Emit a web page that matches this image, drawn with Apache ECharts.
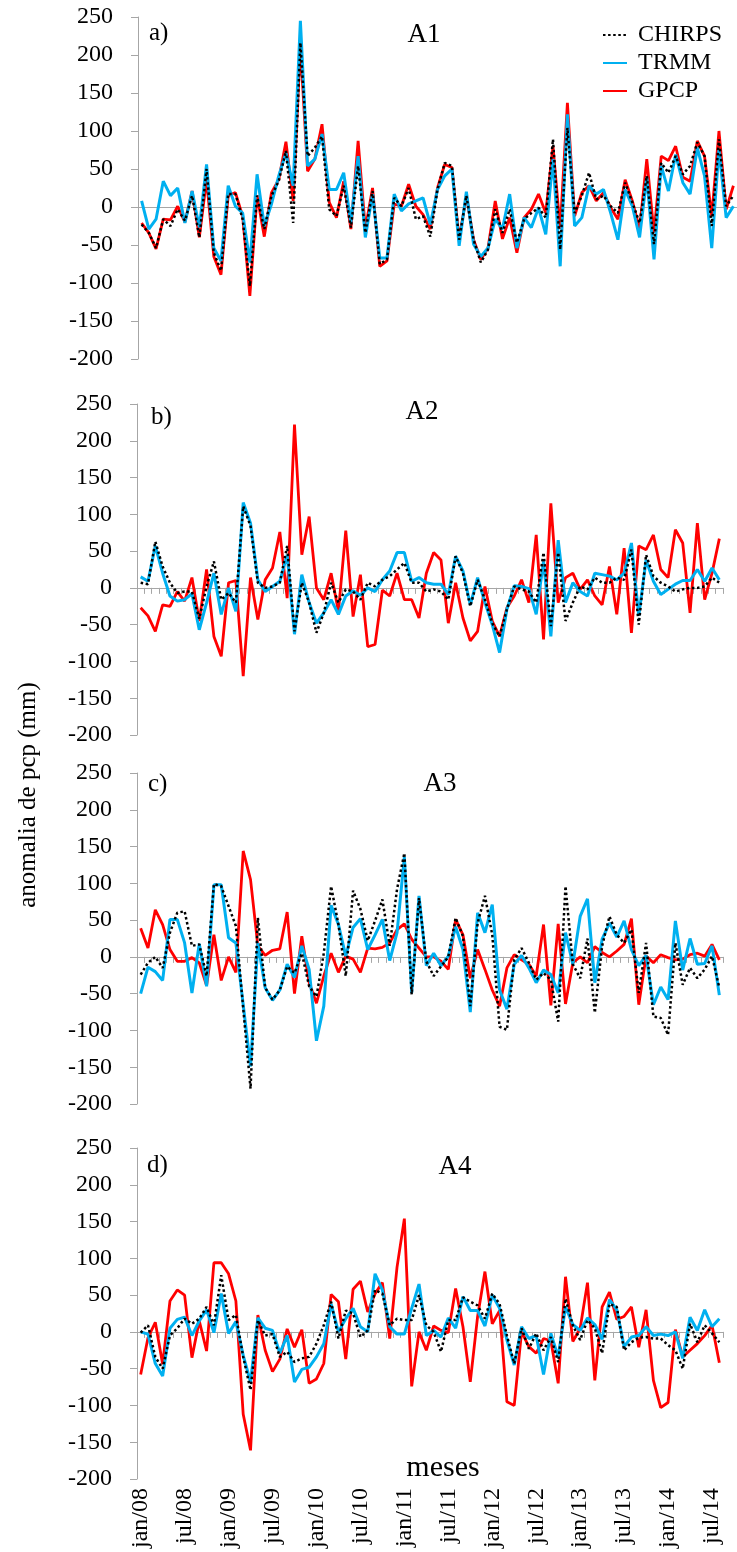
<!DOCTYPE html>
<html>
<head>
<meta charset="utf-8">
<title>anomalia de pcp</title>
<script src="https://cdn.jsdelivr.net/npm/echarts@6/dist/echarts.min.js"></script>
<style>
  html, body { margin: 0; padding: 0; background: #fff; }
  #chart { width: 737px; height: 1552px; }
</style>
</head>
<body>
<div id="chart"></div>
<script>
// month categories, jan/08 onwards
const monthNames = ['jan', 'fev', 'mar', 'abr', 'mai', 'jun', 'jul', 'ago', 'set', 'out', 'nov', 'dez'];
const years = ['08', '09', '10', '11', '12', '13', '14'];
const months = [];
years.forEach(y => monthNames.forEach(m => months.push(m + '/' + y)));

const panelNames = ['A1', 'A2', 'A3', 'A4'];
const panelTags = ['a)', 'b)', 'c)', 'd)'];
const yTicks = [-200, -150, -100, -50, 0, 50, 100, 150, 200, 250];

// A1 - panel runs past the right edge of the picture
const a1Chirps = [-23, -34, -54, -16, -25, -3, -18, 15, -40, 50, -60, -84, 17, 17, -16, -104, 15, -29, 15, 34, 74, -21, 216, 67, 78, 93, -3, -12, 28, -27, 54, -34, 21, -75, -69, 12, 1, 25, -16, -12, -39, 23, 58, 54, -43, 15, -43, -73, -56, -3, -34, -3, -47, -16, -8, -1, -14, 89, -56, 104, -8, 15, 45, 10, 15, 1, -8, 32, 6, -21, 41, -49, 58, 45, 67, 43, 54, 85, 67, -25, 89, 1, 15];
const a1Trmm = [8, -29, -16, 34, 15, 25, -21, 21, -27, 56, -54, -71, 28, 1, -8, -73, 43, -25, 4, 41, 71, 28, 245, 54, 63, 96, 23, 23, 45, -21, 67, -40, 17, -67, -67, 17, -5, 4, 8, 12, -23, 23, 41, 50, -51, 20, -49, -65, -54, -16, -29, 17, -54, -14, -27, -1, -36, 63, -78, 122, -25, -14, 28, 17, 23, -8, -43, 23, 1, -40, 39, -69, 54, 21, 69, 32, 17, 78, 41, -54, 76, -14, 1];
const a1Gpcp = [-21, -34, -55, -16, -17, 1, -20, 21, -40, 36, -65, -89, 15, 19, -12, -117, 15, -39, 19, 36, 86, 8, 212, 47, 63, 109, 6, -14, 34, -29, 87, -29, 25, -78, -71, 4, 1, 30, 1, -10, -29, 25, 56, 52, -43, 15, -43, -69, -54, 8, -42, -14, -60, -14, -3, 17, -8, 80, -29, 137, -12, 19, 28, 8, 19, -1, -16, 36, 8, -29, 63, -34, 67, 61, 80, 39, 34, 87, 67, -12, 100, -3, 28];

// A2
const a2Chirps = [7, 5, 63, 29, 7, -7, -5, -5, -42, 2, 36, -16, -7, -20, 111, 84, 7, 0, 2, 7, 57, -59, 7, -20, -61, -34, 7, -20, -2, -5, -16, 7, 2, 11, 16, 25, 34, 7, 7, -5, -2, -5, -16, 43, 20, -25, 11, -16, -48, -66, -29, 2, -2, -5, -20, 48, -52, 48, -45, -20, 2, -2, 14, 7, 7, 14, 11, 52, -50, 45, 16, 7, 2, -5, -2, 0, 0, 2, 14, 7];
const a2Trmm = [15, 9, 57, 20, -11, -18, -16, -8, -57, -20, 20, -36, 0, -32, 116, 88, 11, -5, 2, 9, 45, -63, 18, -20, -48, -34, -16, -36, -11, -4, -10, 0, -5, 11, 23, 48, 48, 9, 14, 7, 5, 5, -9, 43, 23, -23, 14, -20, -50, -88, -29, 3, 2, -1, -36, 36, -66, 65, -20, 7, -5, -11, 20, 18, 16, 11, 20, 61, -38, 38, 9, -9, -2, 5, 10, 10, 25, 9, 27, 11];
const a2Gpcp = [-27, -38, -59, -23, -25, -5, -18, 14, -45, 25, -66, -93, 7, 10, -120, 14, -43, 11, 27, 76, -14, 222, 45, 97, 0, -16, 20, -32, 78, -39, 18, -80, -77, -3, -11, 20, -16, -16, -41, 20, 48, 38, -48, 7, -41, -72, -59, 2, -45, -66, -27, -11, 11, -20, 72, -70, 115, -20, 14, 20, -2, 11, -11, -23, 29, -36, 54, -61, 57, 52, 72, 25, 14, 79, 61, -34, 88, -16, 20, 67];

// A3
const a3Chirps = [-24, -8, 0, -15, 33, 60, 62, 15, 17, -26, 99, 96, 69, 42, -70, -179, 53, -42, -58, -45, -13, -22, 5, -40, -54, 5, 96, 44, -26, 90, 65, 22, 49, 78, 15, 92, 141, -51, 80, -6, -26, -13, 0, 53, 28, -67, 46, 83, 30, -95, -99, -4, 12, -8, -31, -22, -31, -88, 96, -10, -29, 25, -76, 15, 55, 30, 19, 37, -49, 19, -81, -83, -106, 19, -38, -15, -29, -17, 1, -42];
const a3Trmm = [-50, -14, -20, -32, 51, 51, 19, -49, 18, -40, 98, 98, 26, 19, -65, -149, 19, -42, -59, -45, -10, -28, 15, -17, -114, -67, 70, 44, 1, 40, 52, 10, 30, 51, -5, 33, 136, -49, 83, -12, 5, -12, 1, 41, 10, -75, 60, 33, 71, -45, -71, -10, 2, -15, -35, -18, -24, -49, 33, -10, 55, 79, -35, 24, 46, 27, 49, 10, -12, 2, -65, -41, -58, 49, -18, 25, -10, -9, 15, -52];
const a3Gpcp = [39, 12, 64, 44, 10, -6, -6, -1, -8, -39, 30, -32, 0, -21, 144, 105, 15, 2, 9, 11, 61, -50, 28, -35, -63, -26, 5, -21, 1, -3, -21, 12, 11, 13, 19, 37, 45, 24, 12, 0, 0, -6, -17, 51, 30, -29, 10, -17, -45, -67, -15, 3, -4, -10, -26, 44, -66, 45, -64, -8, 0, -8, 14, 6, 0, 8, 17, 52, -65, 1, -8, 3, -1, -4, -3, 3, 5, 1, 17, -4];

// A4
const a4Chirps = [-1, 9, -34, -50, -5, 5, 18, 11, 18, 34, 9, 77, 16, 23, -34, -79, 16, -5, -3, -34, -27, -41, -36, -34, -16, 9, 41, -9, 29, 25, -7, 2, 57, 52, 9, 18, 16, 16, 50, 9, 0, -27, 16, 16, 47, 41, 36, 18, 52, 38, -5, -43, 5, -23, -2, -25, -7, -41, 45, 9, -11, 16, 5, -29, 38, 34, -25, -14, -8, -7, -9, -9, -18, -25, -50, 11, -14, 9, -2, -14];
const a4Trmm = [0, -3, -43, -60, 5, 17, 20, -5, 15, 30, -1, 52, -2, 14, -32, -68, 19, 5, 2, -29, -5, -68, -51, -48, -34, -16, 38, 0, 18, 32, 7, 0, 79, 57, 7, -3, -3, 32, 65, -5, 2, -7, 19, 5, 48, 29, 29, 8, 50, 32, -11, -45, 7, -9, -5, -58, -2, -34, 34, 10, 2, 19, 10, -10, 44, 30, -20, -7, -5, 7, -5, -3, -5, 0, -36, 20, 2, 30, 7, 18];
const a4Gpcp = [-58, -8, 13, -44, 42, 57, 50, -35, 15, -26, 94, 94, 79, 42, -112, -161, 23, -25, -54, -37, 4, -21, 3, -70, -64, -43, 51, 41, -37, 58, 69, 27, 52, 67, -9, 88, 154, -74, 0, -25, 8, 2, -1, 59, 7, -68, 21, 82, 11, 29, -95, -100, 0, -20, -29, -9, -12, -70, 75, -13, 5, 67, -66, 34, 54, 17, 21, 34, -21, 30, -66, -103, -96, 3, -34, -25, -16, -5, 9, -42];

const panels = [
  { chirps: a1Chirps, trmm: a1Trmm, gpcp: a1Gpcp },
  { chirps: a2Chirps, trmm: a2Trmm, gpcp: a2Gpcp },
  { chirps: a3Chirps, trmm: a3Trmm, gpcp: a3Gpcp },
  { chirps: a4Chirps, trmm: a4Trmm, gpcp: a4Gpcp },
];

const serif = '"Liberation Serif", "Times New Roman", serif';
const axisGray = '#a6a6a6';

const grids = [
  { left: 138, top: 17, width: 608, height: 342 },
  { left: 137, top: 404, width: 586, height: 331 },
  { left: 137, top: 773, width: 586, height: 331 },
  { left: 137, top: 1148, width: 586, height: 331 },
];

const xAxis = [];
const yAxis = [];
const series = [];

panels.forEach((p, i) => {
  const cats = months.slice(0, p.gpcp.length);
  // category axis that sits on the zero line
  xAxis.push({
    type: 'category', gridIndex: i, position: 'top', data: cats, boundaryGap: true,
    axisLine: { onZero: true, lineStyle: { color: axisGray, width: 1 } },
    axisTick: { show: i > 0, inside: true, length: 6, interval: 0, lineStyle: { color: axisGray } },
    axisLabel: { show: false },
    splitLine: { show: false }
  });
  yAxis.push({
    type: 'value', gridIndex: i, min: yTicks[0], max: yTicks[yTicks.length - 1], interval: 50,
    axisLine: { show: true, lineStyle: { color: axisGray, width: 1 } },
    axisTick: { show: true, length: 7, lineStyle: { color: axisGray } },
    splitLine: { show: false },
    axisLabel: { margin: 25, fontFamily: serif, fontSize: 24, color: '#000', formatter: v => String(v) }
  });
  const xi = xAxis.length - 1;
  series.push(
    { name: 'GPCP', type: 'line', xAxisIndex: xi, yAxisIndex: i, data: p.gpcp, symbol: 'none',
      lineStyle: { color: '#ff0000', width: 2.8 }, itemStyle: { color: '#ff0000' } },
    { name: 'TRMM', type: 'line', xAxisIndex: xi, yAxisIndex: i, data: p.trmm, symbol: 'none',
      lineStyle: { color: '#00b0f0', width: 3 }, itemStyle: { color: '#00b0f0' } },
    { name: 'CHIRPS', type: 'line', xAxisIndex: xi, yAxisIndex: i, data: p.chirps, symbol: 'none',
      lineStyle: { color: '#000', width: 2.5, type: [2.5, 2.6] }, itemStyle: { color: '#000' } }
  );
});

// month labels only under the last panel
xAxis.push({
  type: 'category', gridIndex: 3, position: 'bottom', data: months.slice(0, a4Gpcp.length), boundaryGap: true,
  axisLine: { show: false, onZero: false },
  axisTick: { show: false },
  axisLabel: { interval: 5, rotate: 90, margin: 9, fontFamily: serif, fontSize: 24, color: '#000' }
});

const titlePos = [[424, 35], [422, 412], [440, 784], [455, 1167]];
const tagPos = [[149, 21], [151, 405], [148, 772], [147, 1153]];
const graphic = [];
panels.forEach((p, i) => {
  graphic.push({
    type: 'text', x: titlePos[i][0], y: titlePos[i][1], z: 10,
    style: { text: panelNames[i], font: '27px ' + serif, fill: '#000', align: 'center', verticalAlign: 'middle' }
  });
  graphic.push({
    type: 'text', x: tagPos[i][0], y: tagPos[i][1], z: 10,
    style: { text: panelTags[i], font: '25px ' + serif, fill: '#000', align: 'left', verticalAlign: 'top' }
  });
});
graphic.push({
  type: 'text', x: 28, y: 795, rotation: Math.PI / 2,
  style: { text: 'anomalia de pcp (mm)', font: '25px ' + serif, fill: '#000', align: 'center', verticalAlign: 'middle' }
});
graphic.push({
  type: 'text', x: 443, y: 1468,
  style: { text: 'meses', font: '30px ' + serif, fill: '#000', align: 'center', verticalAlign: 'middle' }
});

const chart = echarts.init(document.getElementById('chart'), null, { renderer: 'canvas' });
chart.setOption({
  backgroundColor: '#fff',
  animation: false,
  grid: grids,
  xAxis: xAxis,
  yAxis: yAxis,
  legend: {
    orient: 'vertical', left: 597, top: 18,
    data: ['CHIRPS', 'TRMM', 'GPCP'],
    itemWidth: 24, itemHeight: 12, itemGap: 4,
    // hide the marker that ECharts puts on a line series' legend icon
    itemStyle: { opacity: 0 },
    textStyle: { fontFamily: serif, fontSize: 24, color: '#000', lineHeight: 24, padding: [0, 0, 0, 6] }
  },
  graphic: graphic,
  series: series
});
</script>
</body>
</html>
